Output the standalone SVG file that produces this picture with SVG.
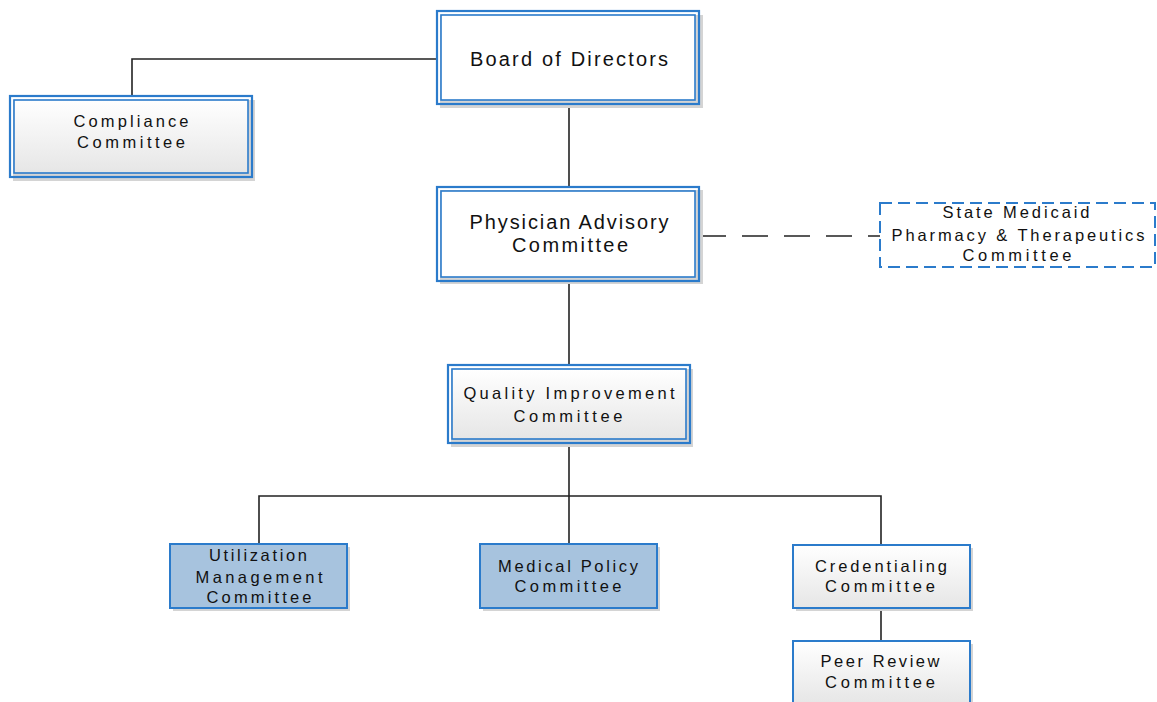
<svg xmlns="http://www.w3.org/2000/svg" width="1157" height="702" viewBox="0 0 1157 702">
<defs>
<linearGradient id="gl" x1="0" y1="0" x2="0" y2="1"><stop offset="0" stop-color="#ffffff"/><stop offset="1" stop-color="#e6e6e6"/></linearGradient>
<style>
.o{fill:none;stroke:#2b7bcb;stroke-width:2.2}
.i{stroke:#2b7bcb;stroke-width:1.6}
.s{fill:#d4d4d4}
.t{font-family:"Liberation Sans",Arial,sans-serif;fill:#111;text-anchor:middle}
.b{font-size:20px}
.m{font-size:16.5px}
.c{fill:none;stroke:#222;stroke-width:1.6}
.blue{fill:#a7c3de;stroke:#2b7bcb;stroke-width:2}
.lt{fill:url(#gl);stroke:#2b7bcb;stroke-width:2}
</style>
</defs>
<rect width="1157" height="702" fill="#fff"/>
<g id="connectors">
<polyline class="c" points="437,59 132,59 132,96"/>
<line class="c" x1="569" y1="105" x2="569" y2="187"/>
<line class="c" x1="700" y1="236" x2="880" y2="236" stroke-dasharray="26,16"/>
<line class="c" x1="569" y1="283" x2="569" y2="365"/>
<line class="c" x1="569" y1="443" x2="569" y2="544"/>
<polyline class="c" points="259,544 259,496 881,496 881,545"/>
<line class="c" x1="881" y1="608" x2="881" y2="641"/>
</g>
<g id="board">
<rect class="s" x="440" y="15" width="263" height="93"/>
<rect x="437" y="11" width="262" height="93" fill="#fff" class="o"/>
<rect x="441" y="15" width="254" height="85" fill="#fff" class="i"/>
<text class="t b" x="569" y="66" textLength="198" lengthAdjust="spacing">Board of Directors</text>
</g>
<g id="compliance">
<rect class="s" x="13" y="100" width="242" height="81"/>
<rect x="10" y="96" width="242" height="81" fill="#fff" class="o"/>
<rect x="14" y="100" width="234" height="73" fill="url(#gl)" class="i"/>
<text class="t m" x="131" y="127" textLength="115" lengthAdjust="spacing">Compliance</text>
<text class="t m" x="131" y="148" textLength="108" lengthAdjust="spacing">Committee</text>
</g>
<g id="physician">
<rect class="s" x="440" y="190" width="263" height="94"/>
<rect x="437" y="187" width="262" height="94" fill="#fff" class="o"/>
<rect x="441" y="191" width="254" height="86" fill="#fff" class="i"/>
<text class="t b" x="569" y="229" textLength="199" lengthAdjust="spacing">Physician Advisory</text>
<text class="t b" x="570" y="252" textLength="116" lengthAdjust="spacing">Committee</text>
</g>
<g id="state">
<rect x="880" y="203" width="275" height="64" fill="#fff" stroke="#2b7bcb" stroke-width="2" stroke-dasharray="12,6"/>
<text class="t m" x="1016" y="218" textLength="147" lengthAdjust="spacing">State Medicaid</text>
<text class="t m" x="1018" y="241" textLength="253" lengthAdjust="spacing">Pharmacy &amp; Therapeutics</text>
<text class="t m" x="1017" y="261" textLength="109" lengthAdjust="spacing">Committee</text>
</g>
<g id="quality">
<rect class="s" x="451" y="369" width="242" height="78"/>
<rect x="448" y="365" width="242" height="78" fill="#fff" class="o"/>
<rect x="452" y="369" width="234" height="70" fill="url(#gl)" class="i"/>
<text class="t m" x="569" y="399" textLength="211" lengthAdjust="spacing">Quality Improvement</text>
<text class="t m" x="568" y="422" textLength="109" lengthAdjust="spacing">Committee</text>
</g>
<g id="um">
<rect class="s" x="173" y="547" width="177" height="64"/>
<rect class="blue" x="170" y="544" width="177" height="64"/>
<text class="t m" x="258" y="561" textLength="98" lengthAdjust="spacing">Utilization</text>
<text class="t m" x="259" y="583" textLength="127" lengthAdjust="spacing">Management</text>
<text class="t m" x="259" y="603" textLength="105" lengthAdjust="spacing">Committee</text>
</g>
<g id="medical">
<rect class="s" x="483" y="547" width="177" height="64"/>
<rect class="blue" x="480" y="544" width="177" height="64"/>
<text class="t m" x="568" y="572" textLength="140" lengthAdjust="spacing">Medical Policy</text>
<text class="t m" x="568" y="592" textLength="107" lengthAdjust="spacing">Committee</text>
</g>
<g id="credentialing">
<rect class="s" x="796" y="548" width="177" height="63"/>
<rect class="lt" x="793" y="545" width="177" height="63"/>
<text class="t m" x="881" y="572" textLength="132" lengthAdjust="spacing">Credentialing</text>
<text class="t m" x="880" y="592" textLength="110" lengthAdjust="spacing">Committee</text>
</g>
<g id="peer">
<rect class="s" x="796" y="644" width="177" height="63"/>
<rect class="lt" x="793" y="641" width="177" height="63"/>
<text class="t m" x="880" y="667" textLength="119" lengthAdjust="spacing">Peer Review</text>
<text class="t m" x="880" y="688" textLength="110" lengthAdjust="spacing">Committee</text>
</g>
</svg>
